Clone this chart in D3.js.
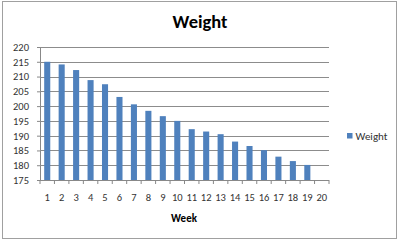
<!DOCTYPE html>
<html>
<head>
<meta charset="utf-8">
<script src="https://cdn.jsdelivr.net/npm/d3@7"></script>
<style>
  body { margin: 0; background: #fff; }
  text { font-family: Calibri, Carlito, "Open Sans", sans-serif; }
</style>
</head>
<body>
<div id="chart"></div>
<script>
// data
const weeks = d3.range(1, 21).map(String);
const weights = [215, 214.1, 212.2, 208.8, 207.4, 203.1, 200.6, 198.4, 196.6, 195,
  192.2, 191.4, 190.5, 188, 186.5, 185.1, 182.9, 181.4, 180.1, null];
const yTicks = d3.range(175, 221, 5);

const width = 400, height = 241;
const margin = { top: 47, left: 40, right: 71, bottom: 61 };

const svg = d3.select("#chart").append("svg")
  .attr("width", width)
  .attr("height", height);

// outer chart border
svg.append("rect")
  .attr("x", 2.5).attr("y", 1.5)
  .attr("width", 394).attr("height", 237)
  .attr("fill", "#fff")
  .attr("stroke", "#a0a0a0");

const x = d3.scaleBand()
  .domain(weeks)
  .range([margin.left, width - margin.right])
  .paddingInner(0.58).paddingOuter(0.29);

const y = d3.scaleLinear()
  .domain([175, 220])
  .range([height - margin.bottom, margin.top]);

// gridlines + y axis
const yAxis = svg.append("g")
  .attr("transform", `translate(${margin.left},0)`)
  .call(d3.axisLeft(y).tickValues(yTicks).tickSize(3).tickPadding(8));
yAxis.select(".domain").attr("stroke", "#888");
yAxis.selectAll(".tick line").attr("stroke", "#888");
yAxis.selectAll(".tick text")
  .attr("font-size", 10.5).attr("fill", "#333");

svg.append("g")
  .selectAll("line")
  .data(yTicks.filter(d => d > 175))
  .join("line")
  .attr("x1", margin.left)
  .attr("x2", width - margin.right)
  .attr("y1", d => Math.round(y(d)) + 0.5)
  .attr("y2", d => Math.round(y(d)) + 0.5)
  .attr("stroke", "#8c8c8c");

// bars
svg.append("g")
  .selectAll("rect")
  .data(weeks.map((w, i) => ({ week: w, value: weights[i] })).filter(d => d.value != null))
  .join("rect")
  .attr("x", d => x(d.week))
  .attr("y", d => y(d.value))
  .attr("width", x.bandwidth())
  .attr("height", d => y(175) - y(d.value))
  .attr("fill", "#4f81bd");

// x axis
const step = x.step();
const xAxis = svg.append("g")
  .attr("transform", `translate(0,${height - margin.bottom})`);
xAxis.append("line")
  .attr("x1", margin.left).attr("x2", width - margin.right)
  .attr("y1", 0.5).attr("y2", 0.5)
  .attr("stroke", "#888");
xAxis.selectAll("line.tick")
  .data(d3.range(0, weeks.length + 1))
  .join("line")
  .attr("class", "tick")
  .attr("x1", i => margin.left + i * step)
  .attr("x2", i => margin.left + i * step)
  .attr("y1", 0).attr("y2", 4)
  .attr("stroke", "#888");
xAxis.selectAll("text")
  .data(weeks)
  .join("text")
  .attr("x", d => x(d) + x.bandwidth() / 2)
  .attr("y", 21)
  .attr("text-anchor", "middle")
  .attr("font-size", 10.5)
  .attr("fill", "#333")
  .text(d => d);

// titles
svg.append("text")
  .attr("x", 200).attr("y", 28)
  .attr("text-anchor", "middle")
  .attr("font-size", 18.5)
  .attr("font-weight", "bold")
  .text("Weight");

svg.append("text")
  .attr("x", 184).attr("y", 222)
  .attr("text-anchor", "middle")
  .attr("font-size", 11)
  .attr("font-weight", "bold")
  .text("Week");

// legend
const legend = svg.append("g").attr("transform", "translate(347,133)");
legend.append("rect")
  .attr("width", 5.5).attr("height", 5.5)
  .attr("fill", "#4f81bd");
legend.append("text")
  .attr("x", 8.5).attr("y", 6.5)
  .attr("font-size", 11)
  .attr("fill", "#333")
  .text("Weight");
</script>
</body>
</html>
